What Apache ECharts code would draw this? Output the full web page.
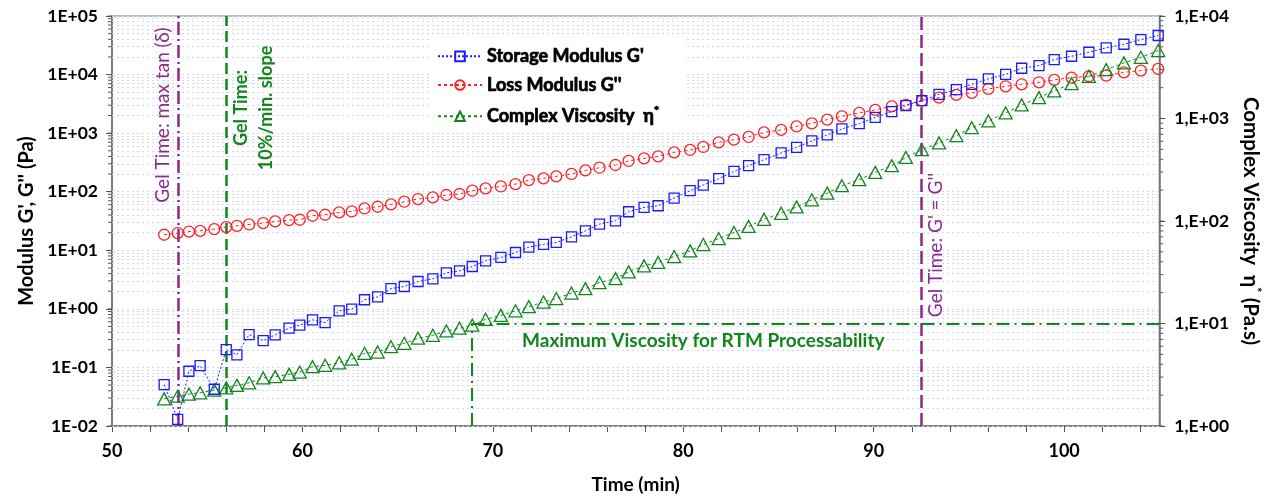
<!DOCTYPE html>
<html><head><meta charset="utf-8">
<script src="https://cdn.jsdelivr.net/npm/echarts@6/dist/echarts.min.js"></script>
<style>html,body{margin:0;padding:0;background:#fff}#c{width:1271px;height:499px}</style>
</head><body><div id="c"></div>
<script>
// ---- data ----
const time = [52.74,53.45,54.04,54.63,55.37,56.0,56.56,57.2,57.94,58.57,59.3,59.86,60.53,61.19,61.93,62.59,63.26,63.95,64.65,65.35,
66.07,66.85,67.56,68.25,68.92,69.62,70.42,71.19,71.89,72.66,73.33,74.13,74.86,75.6,76.44,77.13,77.94,78.68,
79.52,80.36,81.05,81.86,82.66,83.43,84.24,85.14,85.95,86.75,87.56,88.33,89.24,90.08,90.95,91.69,
92.53,93.43,94.34,95.15,96.02,96.93,97.77,98.68,99.48,100.39,101.3,102.21,103.14,104.03,104.94];
const storageModulus = [0.0508,0.013,0.0861,0.107,0.0424,0.201,0.164,0.364,0.287,0.36,0.468,0.526,0.648,0.583,0.925,0.989,1.43,1.6,2.22,2.41,
2.93,3.26,4.12,4.46,5.29,6.62,7.54,9.17,11.3,12.6,13.6,17.0,21.5,28.0,31.9,45.5,53.9,57.6,
78.0,104,130,167,222,278,352,459,572,736,932,1180,1454,1862,2331,2951,
3594,4603,5541,6827,8433,10110,12810,14260,18050,20540,24060,28580,32960,39650,46420];
const lossModulus = [18.4,19.7,20.9,21.5,23.0,24.9,26.2,27.6,29.2,31.1,32.8,33.2,38.9,40.4,44.3,46.0,51.8,55.4,60.7,67.5,
75.0,80.0,87.9,91.4,104,114,123,135,158,169,183,201,231,257,286,335,371,401,
470,516,581,697,774,861,1032,1135,1307,1471,1702,1937,2214,2493,2872,3034,
3594,4048,4498,4868,5697,6310,6827,7386,8110,8884,9354,9611,10940,11700,12500];
const complexViscosity = [1.84,1.96,2.05,2.11,2.24,2.36,2.49,2.64,2.94,3.03,3.19,3.36,3.79,3.91,4.14,4.48,5.12,5.27,5.94,6.41,
7.18,7.68,8.45,8.99,9.62,11.0,12.0,13.3,14.6,16.2,17.5,19.8,21.9,25.1,27.4,31.9,36.5,39.4,
45.0,51.1,58.9,67.4,77.2,88.4,104,119,137,161,187,221,253,298,346,417,
496,577,680,814,946,1133,1355,1598,1857,2190,2581,2999,3490,3954,4603];
const xLabelEvery = 10;
const gelTimeMaxTan = 53.46;
const gelTimeSlope = 56.0;
const gelTimeCross = 92.52;
const rtmLimitTime = 68.88;
const rtmLimitViscosity = 10;
const rtmLabelTime = 81.05;
const seriesNames = ["Storage Modulus G'", "Loss Modulus G''", "Complex Viscosity"];

// ---- styling ----
const FONT = 'Lato';
const purple = '#8B2A8B';
const green = '#12861A';
const gridColor = '#d4d4f6';
const blue = '#1a1aff';
const red = '#ff2020';

function logLines(minExp, maxExp) {
  const out = [];
  for (let e = minExp; e < maxExp; e++) for (let k = 1; k <= 9; k++) out.push(+(k * Math.pow(10, e)).toPrecision(3));
  out.push(Math.pow(10, maxExp));
  return out;
}
const leftLines = logLines(-2, 5);
const rightLines = logLines(0, 4);

function leftFmt(v) {
  const e = Math.round(Math.log10(v));
  return '1E' + (e < 0 ? '-' : '+') + String(Math.abs(e)).padStart(2, '0');
}
function rightFmt(v) {
  const e = Math.round(Math.log10(v));
  return '1,E+' + String(e).padStart(2, '0');
}

const chart = echarts.init(document.getElementById('c'));
const pair = arr => time.map((t, i) => [t, arr[i]]);
const lbl = { fontFamily: FONT, fontWeight: 'bold', fontSize: 17, color: '#000' };
const legendText = { fontFamily: FONT, fontWeight: 'bold', fontSize: 18, color: '#000', textBorderColor: '#000', textBorderWidth: 0.7 };

const option = {
  animation: false,
  backgroundColor: '#fff',
  grid: { left: 112, right: 111, top: 16, bottom: 73, show: true, borderColor: '#7a7a7a', borderWidth: 1.2 },
  legend: {
    orient: 'vertical', left: 432, top: 37, itemGap: 10, itemWidth: 44, itemHeight: 12, z: 8,
    padding: [10, 26, 6, 5], backgroundColor: '#fff',
    textStyle: { ...legendText,
      rich: { b: { ...legendText }, sup: { ...legendText, fontSize: 12, verticalAlign: 'top', padding: [0, 0, 11, 0] } } },
    formatter: n => n === 'Complex Viscosity' ? '{b|Complex Viscosity  η}{sup|*}' : '{b|' + n + '}',
    data: seriesNames
  },
  xAxis: {
    type: 'value', min: 50, max: 105, interval: 2,
    name: 'Time (min)', nameLocation: 'middle', nameGap: 49, nameTextStyle: { ...lbl, fontSize: 19 },
    axisLine: { lineStyle: { color: '#6e6e6e', width: 1.5 } },
    axisTick: { show: true, length: 6, lineStyle: { color: '#555' } },
    axisLabel: { ...lbl, fontSize: 18, margin: 16, showMaxLabel: false,
      formatter: v => (v % xLabelEvery === 0 ? String(v) : '') },
    splitLine: { show: false }
  },
  yAxis: [{
    type: 'log', logBase: 10, min: 0.01, max: 100000,
    name: "Modulus G', G'' (Pa)", nameLocation: 'middle', nameGap: 75, nameTextStyle: { ...lbl, fontSize: 20 },
    axisLine: { show: true, lineStyle: { color: '#6e6e6e', width: 1.5 } },
    axisTick: { show: true, length: 6, lineStyle: { color: '#555' } },
    axisLabel: { ...lbl, fontSize: 17.5, margin: 14, formatter: leftFmt },
    splitLine: { show: false }
  }, {
    type: 'log', logBase: 10, min: 1, max: 10000, position: 'right',
    name: 'Complex Viscosity  η{sup|*} (Pa.s)', nameLocation: 'middle', nameGap: 78, nameRotate: -90,
    nameTextStyle: { ...lbl, fontSize: 20.5, rich: { sup: { ...lbl, fontSize: 13, verticalAlign: 'top', padding: [0, 0, 12, 0] } } },
    axisLine: { show: true, lineStyle: { color: '#6e6e6e', width: 1.5 } },
    axisTick: { show: true, length: 6, lineStyle: { color: '#555' } },
    axisLabel: { ...lbl, fontSize: 17.5, margin: 15, formatter: rightFmt },
    splitLine: { show: false }
  }],
  series: [
    { type: 'line', name: 'gridL', yAxisIndex: 0, data: [], z: 1, silent: true,
      markLine: { silent: true, z: 1, symbol: 'none', label: { show: false }, animation: false,
        lineStyle: { color: gridColor, type: [2, 3], width: 1 }, data: leftLines.map(v => ({ yAxis: v })) } },
    { type: 'line', name: 'refs', yAxisIndex: 1, data: [], z: 2, silent: true,
      markLine: { silent: true, z: 3, symbol: 'none', label: { show: false }, animation: false,
        data: [
          [{ xAxis: gelTimeMaxTan, yAxis: 1, lineStyle: { color: purple, width: 2.5, type: [13, 4, 2, 4] } }, { xAxis: gelTimeMaxTan, yAxis: 10000 }],
          [{ xAxis: gelTimeSlope, yAxis: 1, lineStyle: { color: green, width: 2.5, type: [11, 5] } }, { xAxis: gelTimeSlope, yAxis: 10000 }],
          [{ xAxis: gelTimeCross, yAxis: 1, lineStyle: { color: purple, width: 2.5, type: [13, 5] } }, { xAxis: gelTimeCross, yAxis: 10000 }],
          [{ xAxis: rtmLimitTime, yAxis: 1, lineStyle: { color: green, width: 2, type: [13, 5, 2, 5] } }, { xAxis: rtmLimitTime, yAxis: rtmLimitViscosity }],
          [{ xAxis: rtmLimitTime, yAxis: rtmLimitViscosity, lineStyle: { color: green, width: 2, type: [13, 5, 2, 5] } }, { xAxis: 105, yAxis: rtmLimitViscosity }]
        ] } },
    { type: 'line', name: seriesNames[0], yAxisIndex: 0, data: pair(storageModulus), z: 5,
      symbol: 'rect', symbolSize: 10, showAllSymbol: true,
      lineStyle: { color: blue, width: 1, type: [2, 2] },
      itemStyle: { color: 'rgba(255,255,255,0)', borderColor: blue, borderWidth: 1.3 } },
    { type: 'line', name: seriesNames[1], yAxisIndex: 0, data: pair(lossModulus), z: 4,
      symbol: 'circle', symbolSize: 11, showAllSymbol: true,
      lineStyle: { color: red, width: 1, type: [3, 3] },
      itemStyle: { color: 'rgba(255,255,255,0)', borderColor: red, borderWidth: 1.3 } },
    { type: 'line', name: seriesNames[2], yAxisIndex: 1, data: pair(complexViscosity), z: 4,
      symbol: 'triangle', symbolSize: [13, 12], showAllSymbol: true,
      lineStyle: { color: green, width: 1, type: [3, 3] },
      itemStyle: { color: 'rgba(255,255,255,0)', borderColor: green, borderWidth: 1.3 } }
  ]
};
chart.setOption(option);

// annotations & minor ticks placed through the chart's own scales
const px = (t) => chart.convertToPixel({ xAxisIndex: 0 }, t);
const pyL = (v) => chart.convertToPixel({ yAxisIndex: 0 }, v);
const pyR = (v) => chart.convertToPixel({ yAxisIndex: 1 }, v);
const x0 = px(50), x1 = px(105);
const yTop = pyL(100000);
const g = [];
leftLines.forEach(v => {
  const y = pyL(v);
  g.push({ type: 'line', shape: { x1: x0 - 4, y1: y, x2: x0, y2: y }, style: { stroke: '#555', lineWidth: 1 }, silent: true });
});
rightLines.forEach(v => {
  const y = pyR(v);
  g.push({ type: 'line', shape: { x1: x1, y1: y, x2: x1 + 4, y2: y }, style: { stroke: '#555', lineWidth: 1 }, silent: true });
});
const ann = (text, x, y, opts) => g.push(Object.assign({ type: 'text', x, y, silent: true, z: 10,
  style: Object.assign({ text, align: 'center', verticalAlign: 'middle', fontFamily: FONT, fontSize: 19 }, opts.style) }, opts.el || {}));
ann('Gel Time: max tan (δ)', px(gelTimeMaxTan) - 15, yTop + 99, { el: { rotation: Math.PI / 2 }, style: { fill: purple } });
ann('Gel Time:\n10%/min. slope', px(gelTimeSlope) + 27, yTop + 92, { el: { rotation: Math.PI / 2 }, style: { fill: green, fontWeight: 'bold', fontSize: 18, lineHeight: 25 } });
ann("Gel Time: G' = G''", px(gelTimeCross) + 14, yTop + 229, { el: { rotation: Math.PI / 2 }, style: { fill: purple } });
ann('Maximum Viscosity for RTM Processability', px(rtmLabelTime), pyR(rtmLimitViscosity) + 17, { style: { fill: green, fontWeight: 'bold', fontSize: 19 } });
chart.setOption({ graphic: g });
</script></body></html>
